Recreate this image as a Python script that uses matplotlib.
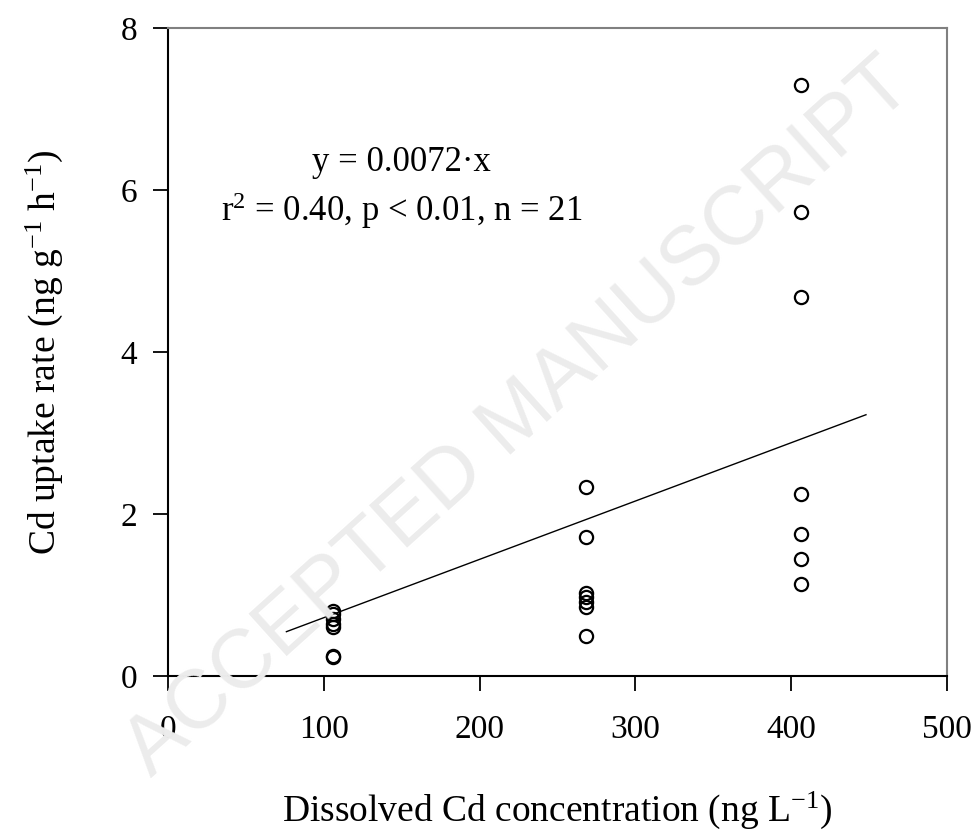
import matplotlib
matplotlib.use("Agg")
import matplotlib.pyplot as plt
import numpy as np

plt.rcParams['font.family'] = ['Liberation Serif', 'DejaVu Serif']
plt.rcParams['mathtext.fontset'] = 'custom'
plt.rcParams['mathtext.rm'] = 'Liberation Serif'
plt.rcParams['mathtext.it'] = 'Liberation Serif:italic'

# data
conc_low = [106] * 7
uptake_low = [0.80, 0.76, 0.70, 0.64, 0.60, 0.25, 0.23]
conc_mid = [268] * 7
uptake_mid = [2.33, 1.72, 1.03, 0.97, 0.91, 0.85, 0.50]
conc_high = [406] * 7
uptake_high = [7.30, 5.73, 4.68, 2.25, 1.75, 1.45, 1.13]
slope = 0.0072
fit_x = [76, 448]
x_ticks = [0, 100, 200, 300, 400, 500]
y_ticks = [0, 2, 4, 6, 8]

fig = plt.figure(figsize=(9.79, 8.36), dpi=100)
ax = fig.add_axes([168/979, 1 - 676/836, (947-168)/979, (676-28)/836])

# watermark
fig.text(0.53, 0.50, "ACCEPTED MANUSCRIPT", rotation=42, fontsize=60,
         color='#ececec', ha='center', va='center', zorder=0,
         family='Liberation Sans')

xs = conc_low + conc_mid + conc_high
ys = uptake_low + uptake_mid + uptake_high
ax.plot(xs, ys, 'o', ms=9.5, mfc='none', mec='black', mew=1.6, zorder=3)
fx = np.array(fit_x, dtype=float)
ax.plot(fx, slope * fx, color='black', lw=1.0, zorder=2)

ax.set_xlim(0, 500)
ax.set_ylim(0, 8)
ax.set_xticks(x_ticks)
ax.set_yticks(y_ticks)
ax.tick_params(axis='x', direction='out', length=11, width=1.3, pad=17, labelsize=24)
ax.tick_params(axis='y', direction='out', length=11, width=1.3, pad=11, labelsize=24)
for s in ['left', 'bottom']:
    ax.spines[s].set_color('black')
    ax.spines[s].set_linewidth(1.5)
for s in ['top', 'right']:
    ax.spines[s].set_color('#808080')
    ax.spines[s].set_linewidth(1.5)
ax.patch.set_alpha(0)

ax.set_xlabel(r"Dissolved Cd concentration (ng L$^{-1}$)", fontsize=27, labelpad=32)
ax.set_ylabel(r"Cd uptake rate (ng g$^{-1}$ h$^{-1}$)", fontsize=27, labelpad=40)

ax.text(0.30, 0.792, "y = 0.0072·x", transform=ax.transAxes, fontsize=25,
        ha='center', va='center')
ax.text(0.30, 0.718, r"r$^2$ = 0.40, p < 0.01, n = 21", transform=ax.transAxes,
        fontsize=25, ha='center', va='center')

fig.savefig("out.png", dpi=100)
